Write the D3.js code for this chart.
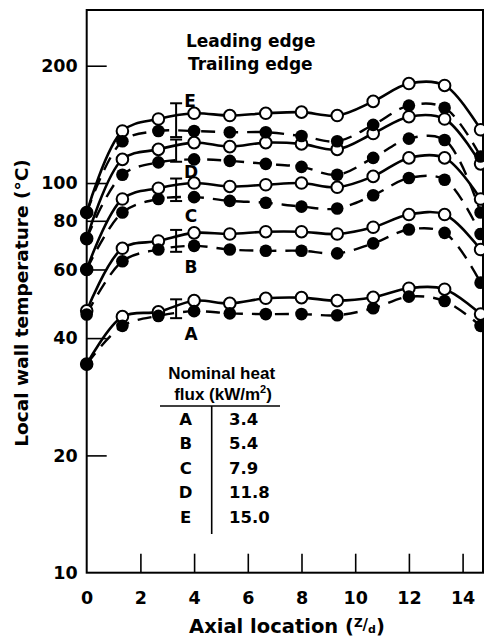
<!DOCTYPE html>
<html>
<head>
<meta charset="utf-8">
<script src="https://cdn.jsdelivr.net/npm/d3@7"></script>
<style>
html,body{margin:0;padding:0;background:#fff;}
svg{display:block;}
</style>
</head>
<body>
<svg id="chart" width="484" height="639"></svg>
<script>
// ---------- data ----------
const axialLocations = [0, 1.33, 2.67, 4, 5.33, 6.67, 8, 9.33, 10.67, 12, 13.33, 14.67];
const seriesNames = ["A", "B", "C", "D", "E"];
const heatFlux = ["3.4", "5.4", "7.9", "11.8", "15.0"];
const leadingA = [34.3, 45.4, 46.7, 49.9, 49.1, 50.6, 50.8, 49.9, 50.9, 53.7, 53.4, 46.1];
const trailingA = [34.3, 43, 45.6, 46.9, 46.3, 46.1, 46.1, 45.8, 47.7, 51.1, 49.8, 43];
const leadingB = [47, 68, 71, 74.5, 74, 75, 75, 74, 77, 83, 83, 67.5];
const trailingB = [46, 63, 67.5, 69, 67.5, 67, 67, 66, 70, 76, 74.5, 55.5];
const leadingC = [60, 91, 97, 100, 98, 99, 100, 97.5, 104, 116, 116, 91];
const trailingC = [60, 84, 91, 92, 90, 89, 87, 86, 93, 103, 102, 74];
const leadingD = [72, 115, 122, 127, 124, 127, 126, 122, 134, 148, 146, 112];
const trailingD = [72, 105, 113, 115, 114, 112, 110, 105, 116, 130, 129, 84];
const leadingE = [84, 136, 146, 151, 149, 151, 152, 149, 162, 180, 178, 137];
const trailingE = [84, 128, 136, 136, 135, 135, 132, 128, 141, 158, 156, 117];
const errorBarX = 3.33;
const errorLow = [45.0, 66.6, 89.9, 113.4, 131.2];
const errorHigh = [50.3, 75.8, 102.7, 129.3, 160.2];
const xTickValues = [0, 2, 4, 6, 8, 10, 12, 14];
const yTickValues = [10, 20, 40, 60, 80, 100, 200];

// ---------- layout ----------
const L = 86.7, R = 483, T = 10, B = 572.7;
const svg = d3.select("#chart");
const x = d3.scaleLinear().domain([0, 14.76]).range([L, R]);
const y = d3.scaleLog().domain([10, 278]).range([B, T]);
const FONT = "DejaVu Sans";

// frame
svg.append("rect").attr("x", L).attr("y", T).attr("width", R - L).attr("height", B - T)
  .attr("fill", "none").attr("stroke", "#000").attr("stroke-width", 2);

// y axis
const yAxis = svg.append("g").attr("transform", `translate(${L},0)`)
  .call(d3.axisLeft(y).tickValues(yTickValues).tickFormat(d3.format("d")).tickSize(-20).tickPadding(9));
yAxis.select(".domain").remove();
yAxis.selectAll("line").attr("stroke", "#000").attr("stroke-width", 1.6)
  .filter(d => d === 10).remove();
yAxis.selectAll("text").attr("font-family", FONT).attr("font-weight", "bold")
  .attr("font-size", 17.5).attr("fill", "#000");

// x axis
const xAxis = svg.append("g").attr("transform", `translate(0,${B})`)
  .call(d3.axisBottom(x).tickValues(xTickValues).tickFormat(d3.format("d")).tickSize(-19).tickPadding(19));
xAxis.select(".domain").remove();
xAxis.selectAll("line").attr("stroke", "#000").attr("stroke-width", 1.6)
  .filter(d => d === 0).remove();
xAxis.selectAll("text").attr("font-family", FONT).attr("font-weight", "bold")
  .attr("font-size", 17.5).attr("fill", "#000");

// axis titles
const xt = svg.append("text").attr("x", 287).attr("y", 633).attr("text-anchor", "middle")
  .attr("font-family", FONT).attr("font-weight", "bold").attr("font-size", 19.5);
xt.append("tspan").text("Axial location (");
xt.append("tspan").attr("font-size", 12).attr("dy", -6).text("Z");
xt.append("tspan").attr("font-size", 15).attr("dy", 3).text("/");
xt.append("tspan").attr("font-size", 11).attr("dy", 3).text("d");
xt.append("tspan").attr("dy", 0).text(")");

svg.append("text").attr("transform", "translate(28,303) rotate(-90)").attr("text-anchor", "middle")
  .attr("font-family", FONT).attr("font-weight", "bold").attr("font-size", 18.5)
  .text("Local wall temperature (°C)");

// legend text
svg.append("text").attr("x", 186).attr("y", 46.7).attr("font-family", FONT)
  .attr("font-weight", "bold").attr("font-size", 17).text("Leading edge");
svg.append("text").attr("x", 188).attr("y", 69.5).attr("font-family", FONT)
  .attr("font-weight", "bold").attr("font-size", 17).text("Trailing edge");

// ---------- series ----------
const leading = [leadingA, leadingB, leadingC, leadingD, leadingE];
const trailing = [trailingA, trailingB, trailingC, trailingD, trailingE];
const line = d3.line().x((d, i) => x(axialLocations[i])).y(d => y(d))
  .curve(d3.curveCatmullRom.alpha(0.5));

const gLines = svg.append("g");
trailing.forEach(s => gLines.append("path").attr("d", line(s)).attr("fill", "none")
  .attr("stroke", "#000").attr("stroke-width", 2.4).attr("stroke-dasharray", "14,9"));
leading.forEach(s => gLines.append("path").attr("d", line(s)).attr("fill", "none")
  .attr("stroke", "#000").attr("stroke-width", 2.6));

// error bars
const gErr = svg.append("g").attr("stroke", "#000").attr("stroke-width", 2);
seriesNames.forEach((n, i) => {
  const ex = x(errorBarX);
  gErr.append("line").attr("x1", ex).attr("x2", ex).attr("y1", y(errorLow[i])).attr("y2", y(errorHigh[i]));
  [errorLow[i], errorHigh[i]].forEach(v => gErr.append("line")
    .attr("x1", ex - 6).attr("x2", ex + 6).attr("y1", y(v)).attr("y2", y(v)));
});

// markers: open (leading) first, filled (trailing) on top
const gPts = svg.append("g");
leading.forEach(s => s.forEach((v, i) => gPts.append("circle")
  .attr("cx", x(axialLocations[i])).attr("cy", y(v)).attr("r", 5.8)
  .attr("fill", "#fff").attr("stroke", "#000").attr("stroke-width", 2)));
trailing.forEach(s => s.forEach((v, i) => gPts.append("circle")
  .attr("cx", x(axialLocations[i])).attr("cy", y(v)).attr("r", 6.3).attr("fill", "#000")));

// series labels near error bars
const labelOffsets = [22, 21, 21, 16, 0];
seriesNames.forEach((n, i) => {
  const ex = x(errorBarX);
  const yy = i === 4 ? y(errorHigh[i]) + 4 : y(errorLow[i]) + labelOffsets[i];
  const xx = i === 4 ? ex + 14 : ex + 15;
  svg.append("text").attr("x", xx).attr("y", yy).attr("text-anchor", "middle")
    .attr("font-family", FONT).attr("font-weight", "bold").attr("font-size", 17)
    .attr("fill", "#000").text(n);
});

// ---------- heat-flux table ----------
const th = svg.append("g").attr("font-family", "Liberation Sans").attr("font-weight", "bold")
  .attr("font-size", 17).attr("text-anchor", "middle");
th.append("text").attr("x", 221.7).attr("y", 379).text("Nominal heat");
const t2 = th.append("text").attr("x", 223).attr("y", 400);
t2.append("tspan").text("flux (kW/m");
t2.append("tspan").attr("font-size", 11).attr("dy", -7).text("2");
t2.append("tspan").attr("dy", 7).text(")");
svg.append("line").attr("x1", 160).attr("x2", 280).attr("y1", 406).attr("y2", 406)
  .attr("stroke", "#000").attr("stroke-width", 1.6);
svg.append("line").attr("x1", 211.7).attr("x2", 211.7).attr("y1", 406).attr("y2", 534)
  .attr("stroke", "#000").attr("stroke-width", 1.6);
seriesNames.forEach((n, i) => {
  const by = 425 + i * 24.4;
  svg.append("text").attr("x", 185.7).attr("y", by).attr("text-anchor", "middle")
    .attr("font-family", FONT).attr("font-weight", "bold").attr("font-size", 16.5).text(n);
  svg.append("text").attr("x", 229).attr("y", by).attr("text-anchor", "start")
    .attr("font-family", FONT).attr("font-weight", "bold").attr("font-size", 16.5).text(heatFlux[i]);
});
</script>
</body>
</html>
